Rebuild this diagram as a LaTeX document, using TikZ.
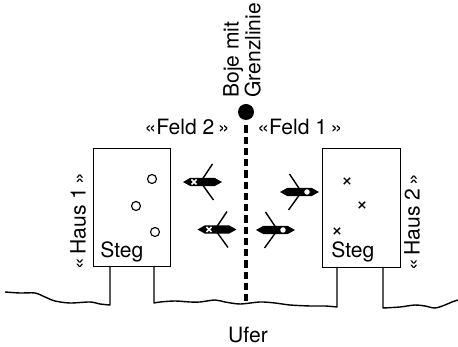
\documentclass[tikz,border=0pt]{standalone}
\usepackage{fontspec}
\setmainfont{TeX Gyre Heros}
\begin{document}
\begin{tikzpicture}[x=0.02cm,y=-0.02cm,
  every node/.style={font=\fontsize{12}{12.5}\selectfont, inner sep=0pt},
  haus/.style={draw, line width=0.8pt, minimum width=1.55cm, minimum height=2.37cm},
  pfahl/.style={line width=0.8pt, line join=round},
  grenze/.style={line width=1.9pt, dash pattern=on 4.2pt off 2.2pt},
  ring/.style={circle, draw, line width=0.65pt, minimum size=0.18cm},
  paddle/.style={line width=0.8pt},
  kayak/.pic={
    \fill (-19.5,0) -- (-12,-4.2) -- (12,-4.2) -- (19.5,0) -- (12,4.2) -- (-12,4.2) -- cycle;
    \draw[paddle] (10,-18) -- (-2,0) -- (11,18);
  },
  kreuz/.pic={
    \draw[line width=0.8pt] (-3.2,-3.2) -- (3.2,3.2) (-3.2,3.2) -- (3.2,-3.2);
  }
]
\useasboundingbox (0,0) rectangle (458,347);

% the two houses with their jetties
\node[haus](haus1) at (132,207.5) {};
\node[haus](haus2) at (361.5,208) {};
\node[anchor=base west](steg1) at (100,258) {Steg};
\node[anchor=base west](steg2) at (331,258) {Steg};
\node[rotate=90](name1) at (78,221) {«\,Haus 1\,»};
\node[rotate=90](name2) at (412,222) {«\,Haus 2\,»};

\node[ring](b1) at (152,179) {};
\node[ring](b2) at (136,206) {};
\node[ring](b3) at (155,232) {};
\pic at (347,181) {kreuz};
\pic at (362,205) {kreuz};
\pic at (337,231) {kreuz};

% shore line and posts
\draw[pfahl] plot[smooth, tension=0.5] coordinates {(5,292) (20,293) (35,293) (45,297) (55,301) (70,303) (90,302) (100,304) (110,305)} -- (110,267);
\draw[pfahl] (154,267) -- plot[smooth, tension=0.5] coordinates {(154,303) (160,302) (175,301) (190,302) (200,302) (215,300) (225,302) (240,304) (260,302) (275,303) (290,305) (310,306) (325,306) (337,307)} -- (337,267);
\draw[pfahl] (383,267) -- plot[smooth, tension=0.5] coordinates {(383,308) (400,307) (415,305) (425,306) (435,308) (445,305) (452,302) (458,300)};
\node[anchor=base](ufer) at (248,343) {Ufer};

% buoy and border line
\node[circle, fill, minimum size=0.32cm](boje) at (246,112) {};
\coordinate (grund) at (246,304);
\draw[grenze] ([yshift=-0.1cm]boje.south) -- (grund);
\node[rotate=90, anchor=west, align=left](bojetext) at (242,98) {Boje mit\\Grenzlinie};
\node[anchor=base east](feld2) at (230,135) {«Feld 2\,»};
\node[anchor=base west](feld1) at (257,135) {«Feld 1\,»};

% boats
\pic at (202.5,182) {kayak};
\draw[white, line width=0.9pt] (191.5,179.5) -- (196.5,184.5) (191.5,184.5) -- (196.5,179.5);
\pic at (217,229.5) {kayak};
\draw[white, line width=0.9pt] (206.5,227) -- (211.5,232) (206.5,232) -- (211.5,227);
\pic[xscale=-1] at (299.5,192) {kayak};
\fill[white] (307,192) circle[radius=0.055cm];
\pic[xscale=-1] at (275.5,230) {kayak};
\fill[white] (283,230) circle[radius=0.055cm];
\end{tikzpicture}
\end{document}
